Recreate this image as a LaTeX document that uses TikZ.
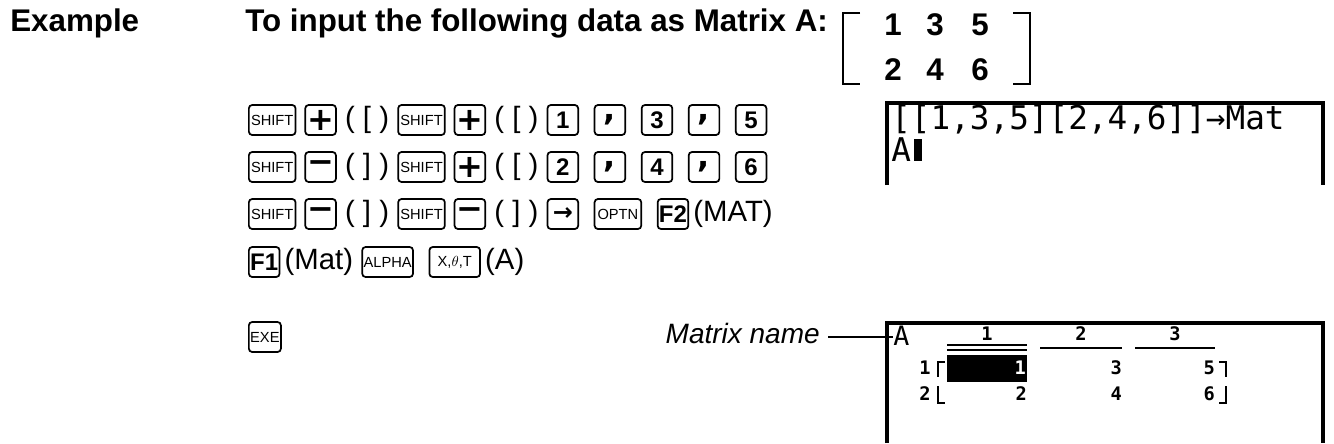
\documentclass[tikz,border=0pt]{standalone}
\usepackage{fontspec}
\setmainfont{Liberation Sans}
\setsansfont{Liberation Sans}
\newfontfamily\lcd{DejaVu Sans Mono}
\newfontfamily\dvs{DejaVu Sans}
\usetikzlibrary{positioning}
\begin{document}
\begin{tikzpicture}[x=0.75pt,y=-0.75pt,
  key/.style={draw,rounded corners=2.5pt,line width=1.3pt,minimum height=22.5pt,minimum width=23pt,inner sep=1pt,font=\bfseries\fontsize{18}{18}\selectfont},
  bigkey/.style={key,font=\dvs\bfseries\fontsize{24}{18}\selectfont},
  skey/.style={key,minimum width=35pt,font=\fontsize{11}{11}\selectfont},
  txt/.style={inner sep=0pt,font=\fontsize{22}{22}\selectfont},
  head/.style={inner sep=0pt,font=\bfseries\fontsize{23.5}{24}\selectfont},
  lcdt/.style={inner sep=0pt,font=\lcd\fontsize{24.5}{26}\selectfont},
  lcds/.style={inner sep=0pt,font=\lcd\bfseries\fontsize{14}{14}\selectfont},
  scr/.style={line width=2.4pt},
  node distance=6pt]
\useasboundingbox (0,0) rectangle (1334,443);
\node[head,anchor=west] (ex) at (10,23) {Example};
\node[head,anchor=west] (ti) at (245,23) {To input the following data as Matrix A:};
% matrix
\node[head] (m11) at (893,25) {1};
\node[head] (m12) at (935,25) {3};
\node[head] (m13) at (980,25) {5};
\node[head] (m21) at (893,70) {2};
\node[head] (m22) at (935,70) {4};
\node[head] (m23) at (980,70) {6};
\draw[line width=1.2pt] (860,13) -- (843,13) -- (843,84) -- (860,84);
\draw[line width=1.2pt] (1013,13) -- (1030,13) -- (1030,84) -- (1013,84);
% row 1
\node[skey,anchor=west] (a1) at (248,120) {SHIFT};
\node[bigkey,right=of a1] (a2) {+};
\node[txt,right=of a2] (a3) {( [ )};
\node[skey,right=of a3] (a4) {SHIFT};
\node[bigkey,right=of a4] (a5) {+};
\node[txt,right=of a5] (a6) {( [ )};
\node[key,right=of a6] (a7) {1};
\node[bigkey,right=11pt of a7] (a8) {,};
\node[key,right=11pt of a8] (a9) {3};
\node[bigkey,right=11pt of a9] (a10) {,};
\node[key,right=11pt of a10] (a11) {5};
% row 2
\node[skey,anchor=west] (b1) at (248,167) {SHIFT};
\node[bigkey,right=of b1] (b2) {−};
\node[txt,right=of b2] (b3) {( ] )};
\node[skey,right=of b3] (b4) {SHIFT};
\node[bigkey,right=of b4] (b5) {+};
\node[txt,right=of b5] (b6) {( [ )};
\node[key,right=of b6] (b7) {2};
\node[bigkey,right=11pt of b7] (b8) {,};
\node[key,right=11pt of b8] (b9) {4};
\node[bigkey,right=11pt of b9] (b10) {,};
\node[key,right=11pt of b10] (b11) {6};
% row 3
\node[skey,anchor=west] (c1) at (248,214) {SHIFT};
\node[bigkey,right=of c1] (c2) {−};
\node[txt,right=of c2] (c3) {( ] )};
\node[skey,right=of c3] (c4) {SHIFT};
\node[bigkey,right=of c4] (c5) {−};
\node[txt,right=of c5] (c6) {( ] )};
\node[key,right=of c6,font=\dvs\bfseries\fontsize{18}{16}\selectfont] (c7) {→};
\node[skey,right=11pt of c7] (c8) {OPTN};
\node[key,right=11pt of c8] (c9) {F2};
\node[txt,right=3pt of c9] (c10) {(MAT)};
% row 4
\node[key,anchor=west] (d1) at (248,262) {F1};
\node[txt,right=3pt of d1] (d2) {(Mat)};
\node[skey,right=of d2,minimum width=38pt] (d3) {ALPHA};
\node[skey,right=11pt of d3,minimum width=38pt] (d4) {X,$\theta$,T};
\node[txt,right=3pt of d4] (d5) {(A)};
% EXE
\node[skey,anchor=west,minimum width=24pt] (e1) at (248,337) {EXE};
% screen 1
\draw[scr] (887,185) -- (887,103) -- (1323,103) -- (1323,185);
\node[lcdt,anchor=west] (s1) at (891,119) {[[1,3,5][2,4,6]]→Mat};
\node[lcdt,anchor=west] (s2) at (891,150) {A};
\fill (s2.east) ++(3,-11) rectangle ++(8,22);
% screen 2
\draw[scr] (887,443) -- (887,323) -- (1323,323) -- (1323,443);
\node[font=\itshape\fontsize{21}{22}\selectfont,inner sep=0pt,anchor=east] (mn) at (820,333) {Matrix name};
\node[lcdt,font=\lcd\fontsize{20}{20}\selectfont,anchor=west] (sa) at (893,336) {A};
\draw[line width=1pt] (mn.east) ++(8,4) coordinate (l0) -- (sa.west |- l0);
\node[lcds] (h1) at (987,334) {1};
\node[lcds] (h2) at (1081,334) {2};
\node[lcds] (h3) at (1175,334) {3};
\draw[line width=2pt] (947,345) -- (1027,345);
\draw[line width=2pt] (947,350) -- (1027,350);
\draw[line width=2pt] (1040,348) -- (1122,348);
\draw[line width=2pt] (1135,348) -- (1215,348);
\fill (947,355) rectangle (1027,382);
\node[lcds] (r1) at (925,368) {1};
\node[lcds] (r2) at (925,394) {2};
\node[lcds,text=white,anchor=east] (v11) at (1026,368) {1};
\node[lcds,anchor=east] (v12) at (1122,368) {3};
\node[lcds,anchor=east] (v13) at (1215,368) {5};
\node[lcds,anchor=east] (v21) at (1027,394) {2};
\node[lcds,anchor=east] (v22) at (1122,394) {4};
\node[lcds,anchor=east] (v23) at (1215,394) {6};
\draw[line width=2pt] (945,362) -- (938,362) -- (938,377);
\draw[line width=2pt] (938,386) -- (938,403) -- (945,403);
\draw[line width=2pt] (1219,362) -- (1226,362) -- (1226,377);
\draw[line width=2pt] (1226,386) -- (1226,403) -- (1219,403);
\end{tikzpicture}
\end{document}
